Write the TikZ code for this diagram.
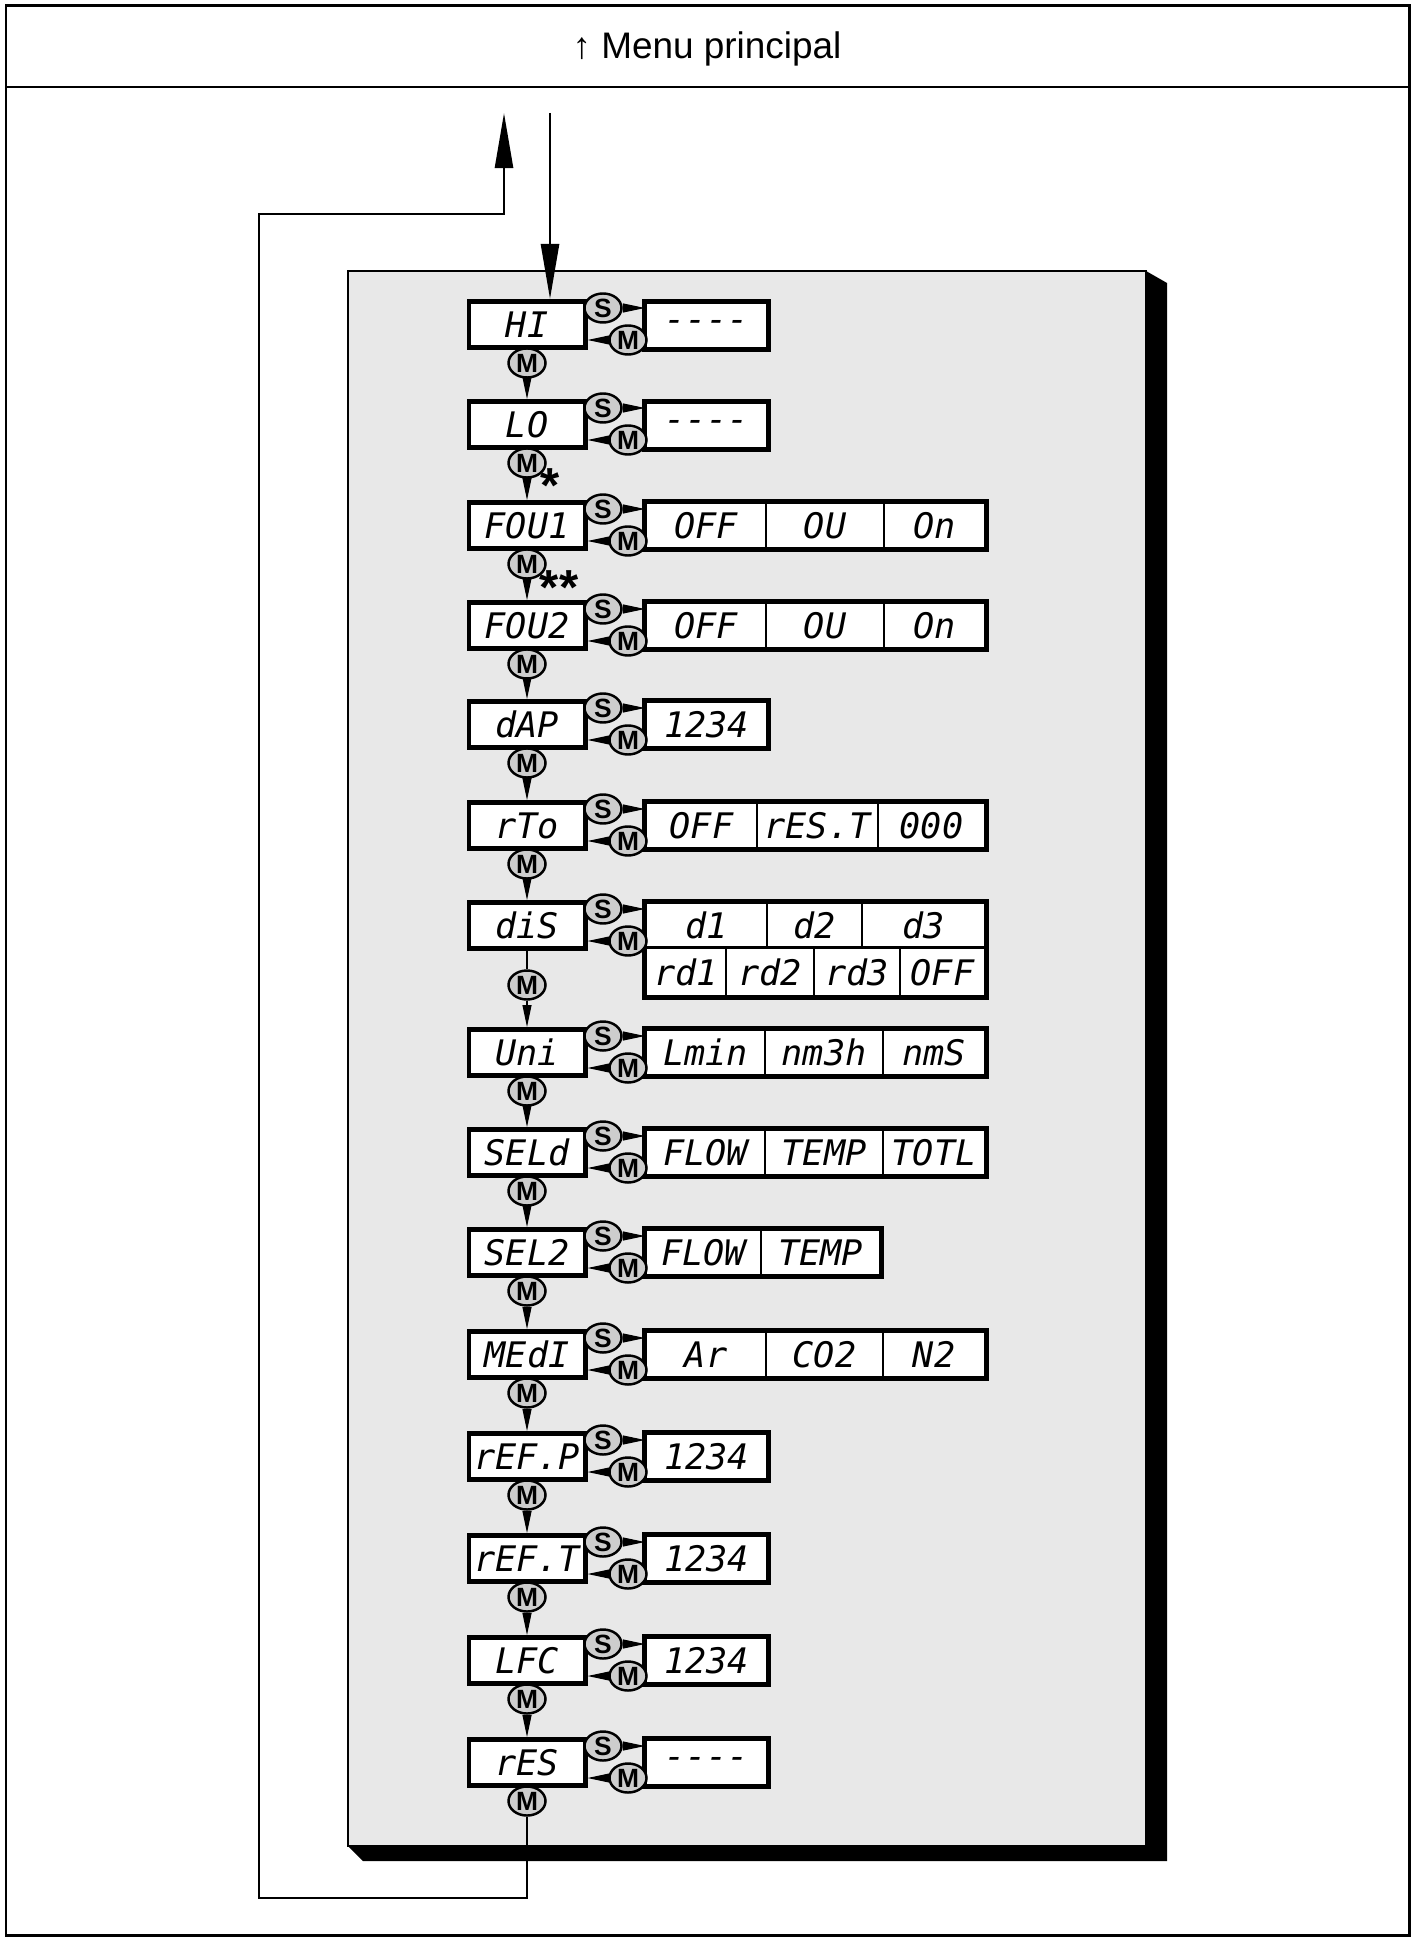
\documentclass[tikz,border=0pt]{standalone}
\usepackage{fontspec}
\setmainfont{Liberation Sans}
\newfontfamily\lcdfont{DejaVu Sans Mono}
\usepackage{tikz}
\usetikzlibrary{positioning, arrows.meta, shapes.geometric}
\definecolor{panel}{RGB}{232,232,232}
\definecolor{keygrey}{RGB}{205,205,205}

\begin{document}
\begin{tikzpicture}[x=0.01cm, y=-0.01cm,
    lcd/.style={draw, line width=1.4pt, fill=white, minimum width=1.16cm, minimum height=0.46cm, inner sep=0pt, font=\lcdfont\itshape\fontsize{10}{12}\selectfont},
    cell/.style={draw, line width=0.6pt, fill=white, inner sep=0pt, font=\lcdfont\itshape\fontsize{10}{12}\selectfont},
    valframe/.style={line width=1.4pt},
    key/.style={ellipse, draw, line width=0.7pt, fill=keygrey, minimum width=0.37cm, minimum height=0.29cm, inner sep=0pt, font=\bfseries\fontsize{7.5}{8}\selectfont},
    keytip/.style={-{Triangle[length=0.22cm, width=0.09cm]}, line width=0.3pt},
    flow/.style={line width=0.75pt},
    bigtip/.style={-{Triangle[length=0.55cm, width=0.18cm]}},
    note/.style={inner sep=0pt, text height=10.2pt, text depth=-5.9pt, font=\bfseries\fontsize{14}{14}\selectfont}]
        \useasboundingbox (0,0) rectangle (1415,1940);
        \draw[line width=0.85pt] (6,6) rectangle (1409,1935);
        \draw[line width=0.6pt] (6,87) -- (1409,87);
        \node (title) at (707,49) {\fontsize{10.5}{12}\selectfont ↑ Menu principal};

        \fill (1146,271) -- (1167,283) -- (1167,1861) -- (363,1861) -- (348,1846) -- cycle;
        \draw[fill=panel, line width=0.6pt] (348,271) rectangle (1146,1846);

        \foreach \n/\txt/\y/\dy in {hi/HI/299/363, lo/LO/399/463, foua/FOU1/500/564, foub/FOU2/600/664,
            dap/dAP/699/763, rto/rTo/800/864, dis/diS/900/985, uni/Uni/1027/1091, seld/SELd/1127/1191,
            selz/SEL2/1227/1291, medi/MEdI/1329/1393, refp/rEF.P/1431/1495, reft/rEF.T/1533/1597,
            lfc/LFC/1635/1699, res/rES/1737/1801}{
            \node[lcd] (\n) at (527,\y+25.5) {\txt};
            \node[key] (\n-d) at (527,\dy) {M};
        }

        \foreach \cn/\cy/\h/\xa/\xb/\txt in {hi-v1/325.5/0.46/646/767/----, lo-v1/425.5/0.46/646/767/----,
            foua-v1/525.5/0.46/646/766/OFF, foua-v2/525.5/0.46/766/884/OU, foua-v3/525.5/0.46/884/985/On,
            foub-v1/625.5/0.46/646/766/OFF, foub-v2/625.5/0.46/766/884/OU, foub-v3/625.5/0.46/884/985/On,
            dap-v1/724.5/0.46/646/767/1234,
            rto-v1/825.5/0.46/646/757/OFF, rto-v2/825.5/0.46/757/878/rES.T, rto-v3/825.5/0.46/878/985/000,
            dis-v1/925/0.45/646/767/d1, dis-v2/925/0.45/767/862/d2, dis-v3/925/0.45/862/985/d3,
            dis-v4/972.5/0.485/646/726/rd1, dis-v5/972.5/0.485/726/814/rd2, dis-v6/972.5/0.485/814/900/rd3,
            dis-v7/972.5/0.485/900/985/OFF,
            uni-v1/1052.5/0.46/646/765/Lmin, uni-v2/1052.5/0.46/765/883/nm3h, uni-v3/1052.5/0.46/883/985/nmS,
            seld-v1/1152.5/0.46/646/765/FLOW, seld-v2/1152.5/0.46/765/883/TEMP, seld-v3/1152.5/0.46/883/985/TOTL,
            selz-v1/1252.5/0.46/646/761/FLOW, selz-v2/1252.5/0.46/761/880/TEMP,
            medi-v1/1354.5/0.46/646/766/Ar, medi-v2/1354.5/0.46/766/883/CO2, medi-v3/1354.5/0.46/883/985/N2,
            refp-v1/1456.5/0.46/646/767/1234, reft-v1/1558.5/0.46/646/767/1234,
            lfc-v1/1660.5/0.46/646/767/1234, res-v1/1762.5/0.46/646/767/----}{
            \pgfmathsetmacro\w{(\xb-\xa)/100}
            \node[cell, minimum width=\w cm, minimum height=\h cm] (\cn) at ({(\xa+\xb)/2},\cy) {\txt};
        }
        \foreach \f/\l in {hi-v1/hi-v1, lo-v1/lo-v1, foua-v1/foua-v3, foub-v1/foub-v3, dap-v1/dap-v1,
            rto-v1/rto-v3, dis-v1/dis-v7, uni-v1/uni-v3, seld-v1/seld-v3, selz-v1/selz-v2, medi-v1/medi-v3,
            refp-v1/refp-v1, reft-v1/reft-v1, lfc-v1/lfc-v1, res-v1/res-v1}
            \draw[valframe] (\f.north west) rectangle (\l.south east);

        \foreach \n/\y in {hi/299, lo/399, foua/500, foub/600, dap/699, rto/800, dis/900, uni/1027,
            seld/1127, selz/1227, medi/1329, refp/1431, reft/1533, lfc/1635, res/1737}{
            \node[key] (\n-s) at (603,\y+9) {S};
            \node[key] (\n-m) at (628,\y+41) {M};
            \draw[keytip] (\n-s) -- (\n-s -| \n-v1.west);
            \draw[keytip] (\n-m) -- (\n-m -| \n.east);
        }

        \foreach \p/\q in {hi/lo, lo/foua, foua/foub, foub/dap, dap/rto, rto/dis, uni/seld, seld/selz,
            selz/medi, medi/refp, refp/reft, reft/lfc, lfc/res}
            \draw[keytip] (\p-d) -- (\q);
        \draw[line width=0.5pt] (dis) -- (dis-d);
        \draw[keytip] (dis-d) -- (uni);

        \node[note] (star1) at (550,485) {*};
        \node[note] (star2) at (559,587) {**};

        \coordinate (in0) at (550,113);
        \coordinate (ret1) at (527,1898); \coordinate (ret2) at (259,1898);
        \coordinate (ret3) at (259,214); \coordinate (ret4) at (504,214);
        \coordinate (out0) at (504,113);
        \draw[flow, bigtip] (in0) -- (in0 |- hi.north);
        \draw[flow, bigtip] (res-d) -- (ret1) -- (ret2) -- (ret3) -- (ret4) -- (out0);
    \end{tikzpicture}
\end{document}
